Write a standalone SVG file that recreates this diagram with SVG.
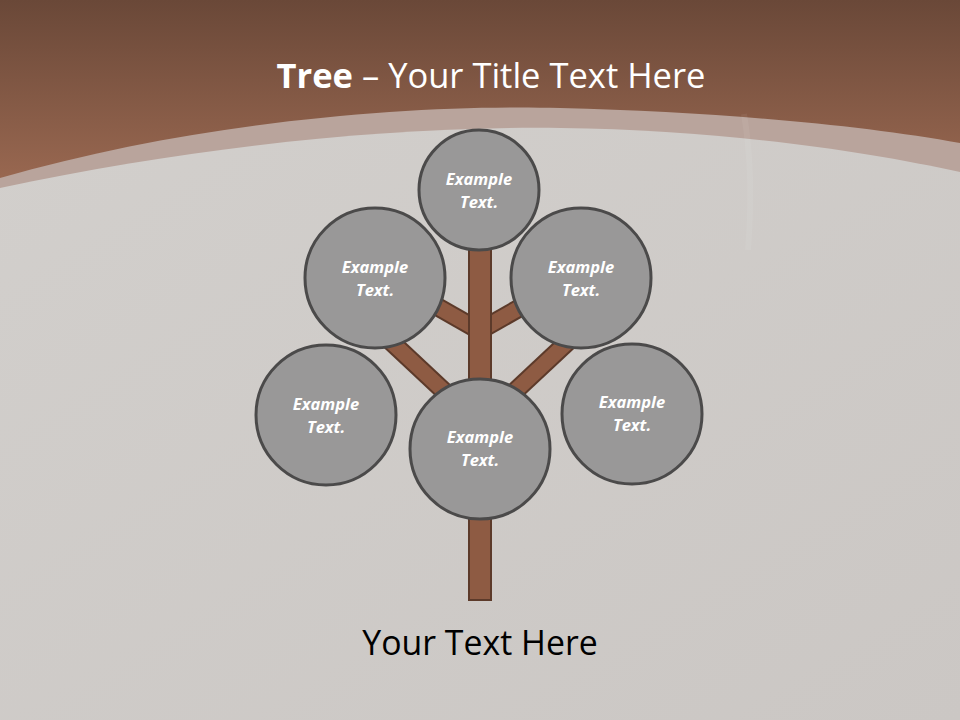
<svg xmlns="http://www.w3.org/2000/svg" width="960" height="720" viewBox="0 0 960 720">
<defs>
<linearGradient id="bg" x1="0" y1="0" x2="0" y2="1">
<stop offset="0" stop-color="#6a4838"/>
<stop offset="1" stop-color="#9e6b53"/>
</linearGradient>
<linearGradient id="gray" x1="0" y1="0" x2="1" y2="1">
<stop offset="0" stop-color="#d2cfcc"/>
<stop offset="1" stop-color="#cbc7c4"/>
</linearGradient>
<style>
.node circle{fill:#999898;stroke:#4b4a4a;stroke-width:3}
.node text{font-family:"Open Sans","Liberation Sans",sans-serif;font-weight:bold;font-style:italic;font-size:16.5px;fill:#ffffff;text-anchor:middle}
.brO{stroke:#5c3a2a;stroke-width:19;stroke-linecap:butt}
.brI{stroke:#8e5b43;stroke-width:15;stroke-linecap:butt}
</style>
</defs>
<rect x="0" y="0" width="960" height="200" fill="url(#bg)"/>
<path d="M0,178 C200,120 420,104 560,108 C720,112 860,125 960,143 L960,720 L0,720 Z" fill="#b9a49c"/>
<path d="M0,188 C200,145 400,126 560,128 C720,130 860,150 960,172 L960,720 L0,720 Z" fill="url(#gray)"/>
<path d="M744,114 C750,150 752,200 748,250" stroke="#ffffff" stroke-opacity="0.06" stroke-width="6" fill="none"/>
<text x="491" y="88" font-family="Open Sans, Liberation Sans, sans-serif" font-size="34.5" fill="#ffffff" text-anchor="middle"><tspan font-weight="bold">Tree</tspan> – Your Title Text Here</text>
<g id="connectors">
<line class="brO" x1="415" y1="294" x2="480" y2="331"/>
<line class="brI" x1="415" y1="294" x2="480" y2="331"/>
<line class="brO" x1="544" y1="294" x2="479" y2="331"/>
<line class="brI" x1="544" y1="294" x2="479" y2="331"/>
<line class="brO" x1="385" y1="336" x2="462" y2="408"/>
<line class="brI" x1="385" y1="336" x2="462" y2="408"/>
<line class="brO" x1="574" y1="336" x2="497" y2="408"/>
<line class="brI" x1="574" y1="336" x2="497" y2="408"/>
<rect x="469" y="240" width="22" height="360" fill="#8e5b43" stroke="#5c3a2a" stroke-width="2"/>
</g>
<g id="n-top" class="node"><circle cx="479" cy="190" r="60"/><text x="479" y="185">Example</text><text x="479" y="208">Text.</text></g>
<g id="n-ul" class="node"><circle cx="375" cy="278" r="70"/><text x="375" y="273">Example</text><text x="375" y="296">Text.</text></g>
<g id="n-ur" class="node"><circle cx="581" cy="278" r="70"/><text x="581" y="273">Example</text><text x="581" y="296">Text.</text></g>
<g id="n-ll" class="node"><circle cx="326" cy="415" r="70"/><text x="326" y="410">Example</text><text x="326" y="433">Text.</text></g>
<g id="n-c" class="node"><circle cx="480" cy="449" r="70"/><text x="480" y="443">Example</text><text x="480" y="466">Text.</text></g>
<g id="n-lr" class="node"><circle cx="632" cy="414" r="70"/><text x="632" y="408">Example</text><text x="632" y="431">Text.</text></g>
<text x="480" y="655" font-family="Open Sans, Liberation Sans, sans-serif" font-size="33.8" fill="#000000" text-anchor="middle">Your Text Here</text>
</svg>
